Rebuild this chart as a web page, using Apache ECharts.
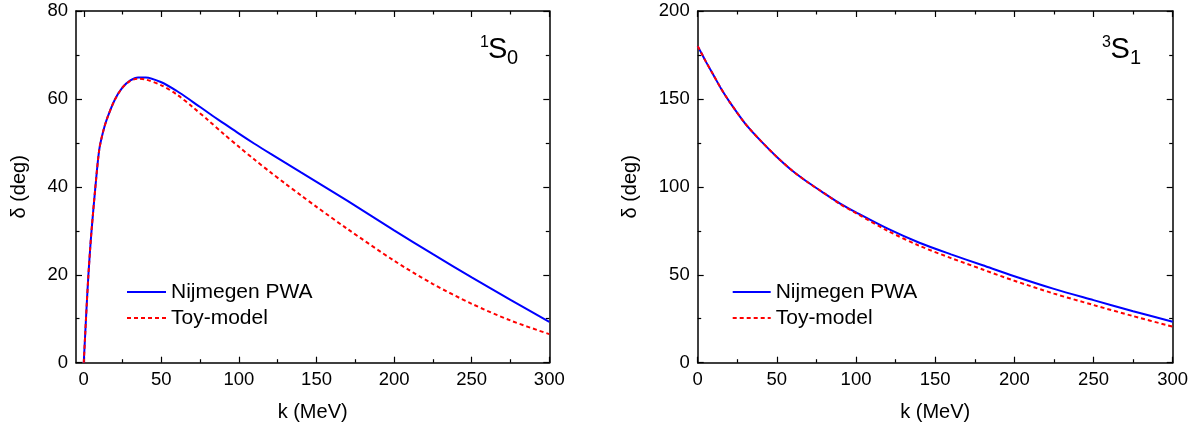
<!DOCTYPE html>
<html>
<head>
<meta charset="utf-8">
<script src="https://cdn.jsdelivr.net/npm/echarts@6/dist/echarts.min.js"></script>
<style>
html,body{margin:0;padding:0;background:#fff;}
#c{width:1201px;height:430px;}
</style>
</head>
<body>
<div id="c"></div>
<script>
// ---- data ----
const seriesNames = ['Nijmegen PWA', 'Toy-model'];

// 1S0 channel
const k1S0 = [0, 1, 2, 3, 4, 5, 7.5, 10, 12.5, 15, 20, 25, 30, 35, 40, 50, 60, 70, 80, 90, 100, 110, 120, 130, 140, 150, 170, 200, 225, 250, 275, 300];
const nij1S0 = [0, 7, 13.8, 20, 25.3, 30, 40, 48.5, 52.6, 55.5, 59.8, 62.6, 64.2, 64.9, 64.9, 63.8, 61.8, 59.4, 56.9, 54.5, 52.1, 49.8, 47.6, 45.45, 43.3, 41.15, 36.8, 30.1, 24.7, 19.4, 14.3, 9.3];
const toy1S0 = [0, 7, 13.8, 20, 25.3, 30, 40, 48.5, 52.6, 55.5, 59.8, 62.6, 64.1, 64.6, 64.4, 63.1, 61.0, 58.2, 55.2, 52.1, 49.1, 46.2, 43.4, 40.7, 38.05, 35.45, 30.4, 23.2, 17.9, 13.4, 9.6, 6.5];

// 3S1 channel
const k3S1 = [0, 2.5, 5, 10, 15, 20, 30, 40, 50, 60, 70, 80, 90, 100, 120, 140, 160, 180, 200, 225, 250, 275, 300];
const nij3S1 = [180, 175.8, 171.5, 163.5, 155.5, 148.5, 136, 126, 117, 109, 102.3, 96.3, 90.5, 85.5, 76.2, 68.2, 61.6, 55.4, 49.2, 42, 35.6, 29.3, 23.3];
const toy3S1 = [180, 175.8, 171.5, 163.5, 155.5, 148.5, 136, 126, 117, 109, 102.3, 96.3, 90.2, 85.0, 75.0, 66.5, 59.5, 53.0, 46.6, 39.3, 32.8, 26.5, 20.5];

// tick labels
const xMajorTicks = [0, 50, 100, 150, 200, 250, 300];
const xMinorTicks = [25, 75, 125, 175, 225, 275];

// ---- chart ----
const FONT = '"Liberation Sans", Arial, sans-serif';
const zip = (xs, ys) => xs.map((x, i) => [x, ys[i]]);
const axLine = { show: true, onZero: false, lineStyle: { color: '#000', width: 1.5 } };
const tickStyle = { color: '#000', width: 1.2 };
const labelStyle = { color: '#000', fontSize: 18.5, fontFamily: FONT, margin: 8 };
const nameStyle = { color: '#000', fontSize: 20, fontFamily: FONT };

function xCustom(grid, pos, withLabel, name) {
  return [
    {
      type: 'value', gridIndex: grid, position: pos, min: -5, max: 300,
      axisLine: axLine,
      axisTick: { show: true, inside: true, length: 6, customValues: xMajorTicks, lineStyle: tickStyle },
      axisLabel: Object.assign({ show: withLabel, customValues: xMajorTicks }, labelStyle),
      splitLine: { show: false },
      name: name || '', nameLocation: 'middle', nameGap: 40, nameTextStyle: nameStyle
    },
    {
      type: 'value', gridIndex: grid, position: pos, min: -5, max: 300,
      axisLine: { show: false, onZero: false },
      axisTick: { show: true, inside: true, length: 3.5, customValues: xMinorTicks, lineStyle: tickStyle },
      axisLabel: { show: false },
      splitLine: { show: false }
    }
  ];
}

function xReg(grid, pos, withLabel, name) {
  return {
    type: 'value', gridIndex: grid, position: pos, min: 0, max: 300, interval: 50,
    axisLine: axLine,
    axisTick: { show: true, inside: true, length: 6, lineStyle: tickStyle },
    minorTick: { show: true, splitNumber: 2, length: 3.5, lineStyle: tickStyle },
    axisLabel: Object.assign({ show: withLabel }, labelStyle),
    splitLine: { show: false },
    name: name || '', nameLocation: 'middle', nameGap: 40, nameTextStyle: nameStyle
  };
}

function yReg(grid, pos, max, interval, withLabel, name, gap) {
  return {
    type: 'value', gridIndex: grid, position: pos, min: 0, max: max, interval: interval,
    axisLine: axLine,
    axisTick: { show: true, inside: true, length: 6, lineStyle: tickStyle },
    minorTick: { show: true, splitNumber: 2, length: 3.5, lineStyle: tickStyle },
    axisLabel: Object.assign({ show: withLabel }, labelStyle),
    splitLine: { show: false },
    name: name || '', nameLocation: 'middle', nameGap: gap || 0, nameTextStyle: nameStyle
  };
}

const xAxes = [].concat(
  xCustom(0, 'bottom', true, 'k (MeV)'),   // 0,1
  xCustom(0, 'top', false),                // 2,3
  [xReg(1, 'bottom', true, 'k (MeV)'),     // 4
   xReg(1, 'top', false)]                  // 5
);
const yAxes = [
  yReg(0, 'left', 80, 20, true, 'δ (deg)', 47),
  yReg(0, 'right', 80, 20, false),
  yReg(1, 'left', 200, 50, true, 'δ (deg)', 57),
  yReg(1, 'right', 200, 50, false)
];

const blueLine = { color: '#0000ff', width: 2, type: 'solid' };
const redLine = { color: '#ff0000', width: 2, type: [4, 3] };
function mk(name, xi, yi, data, ls) {
  return {
    type: 'line', name: name, xAxisIndex: xi, yAxisIndex: yi, data: data,
    showSymbol: false, symbol: 'none', smooth: 0.3,
    color: ls.color, lineStyle: ls, z: name === seriesNames[0] ? 2 : 3,
    animation: false
  };
}

const legendBase = {
  orient: 'vertical', top: 281.5, itemHeight: 14, itemGap: 5, padding: 0,
  textStyle: { color: '#000', fontSize: 21, fontFamily: FONT },
  itemStyle: { opacity: 0, borderWidth: 0 },
  data: seriesNames, selectedMode: false
};

const option = {
  backgroundColor: '#fff',
  animation: false,
  grid: [
    { left: 76, top: 11, width: 473.3, height: 351.7 },
    { left: 697.7, top: 11, width: 475, height: 351.7 }
  ],
  xAxis: xAxes,
  yAxis: yAxes,
  legend: [
    Object.assign({ left: 126, itemWidth: 39 }, legendBase),
    Object.assign({ left: 731.7, itemWidth: 38 }, legendBase)
  ],
  series: [
    mk(seriesNames[0], 0, 0, zip(k1S0, nij1S0), blueLine),
    mk(seriesNames[1], 0, 0, zip(k1S0, toy1S0), redLine),
    mk(seriesNames[0], 4, 2, zip(k3S1, nij3S1), blueLine),
    mk(seriesNames[1], 4, 2, zip(k3S1, toy3S1), redLine)
  ],
  graphic: [
    { type: 'text', left: 480, top: 35, style: { text: '1', fontSize: 16, fontFamily: FONT, fill: '#000' } },
    { type: 'text', left: 488, top: 35, style: { text: 'S', fontSize: 29, fontFamily: FONT, fill: '#000' } },
    { type: 'text', left: 507, top: 48, style: { text: '0', fontSize: 20, fontFamily: FONT, fill: '#000' } },
    { type: 'text', left: 1102, top: 35, style: { text: '3', fontSize: 16, fontFamily: FONT, fill: '#000' } },
    { type: 'text', left: 1110.5, top: 35, style: { text: 'S', fontSize: 29, fontFamily: FONT, fill: '#000' } },
    { type: 'text', left: 1130, top: 48, style: { text: '1', fontSize: 20, fontFamily: FONT, fill: '#000' } }
  ]
};

const chart = echarts.init(document.getElementById('c'), null, { renderer: 'canvas' });
chart.setOption(option);
</script>
</body>
</html>
